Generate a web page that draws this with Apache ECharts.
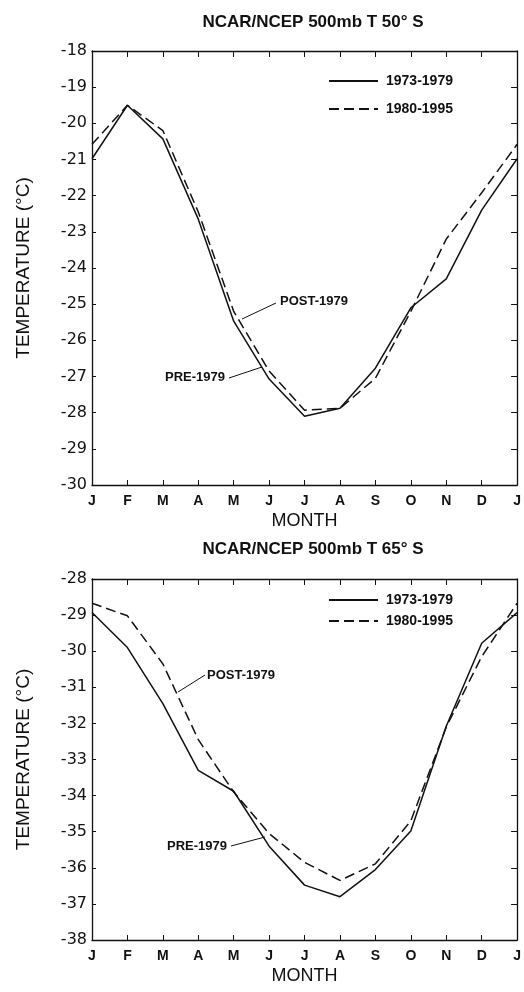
<!DOCTYPE html>
<html>
<head>
<meta charset="utf-8">
<script src="https://cdn.jsdelivr.net/npm/echarts@6/dist/echarts.min.js"></script>
<style>
  html, body { margin: 0; padding: 0; background: #fff; }
  #chart { width: 524px; height: 992px; }
</style>
</head>
<body>
<div id="chart"></div>
<script>
// month ticks, J..D and back to J
const months = ['J', 'F', 'M', 'A', 'M', 'J', 'J', 'A', 'S', 'O', 'N', 'D', 'J'];

// 50 S, 500mb temperature (deg C)
const t50Pre = [-20.98, -19.5, -20.43, -22.65, -25.47, -27.07, -28.1, -27.88, -26.77, -25.1, -24.3, -22.4, -20.98];
const t50Post = [-20.58, -19.5, -20.2, -22.45, -25.2, -26.85, -27.93, -27.88, -27.05, -25.2, -23.2, -21.92, -20.58];

// 65 S
const t65Pre = [-28.93, -29.9, -31.45, -33.3, -33.88, -35.4, -36.48, -36.8, -36.05, -34.98, -32.08, -29.78, -28.93];
const t65Post = [-28.67, -29.02, -30.35, -32.45, -33.9, -35.05, -35.85, -36.35, -35.89, -34.7, -32.1, -30.15, -28.67];

const INK = '#111';
const SANS = 'Liberation Sans, Arial, sans-serif';

const pairs = vals => vals.map((v, i) => [i, v]);

function xAxes(grid) {
    return [
        {
            type: 'value', gridIndex: grid, min: 0, max: 12, interval: 1, position: 'bottom',
            name: 'MONTH', nameLocation: 'middle', nameGap: 27,
            nameTextStyle: { color: INK, fontFamily: SANS, fontSize: 18 },
            axisLine: { onZero: false, lineStyle: { color: INK, width: 1.3 } },
            axisTick: { inside: true, length: 5, lineStyle: { color: INK } },
            axisLabel: { color: INK, fontFamily: SANS, fontSize: 14, fontWeight: 'bold', margin: 9, formatter: v => months[v] },
            splitLine: { show: false },
        },
        {
            type: 'value', gridIndex: grid, min: 0, max: 12, interval: 1, position: 'top',
            axisLine: { onZero: false, lineStyle: { color: INK, width: 1.3 } },
            axisTick: { inside: true, length: 6, lineStyle: { color: INK } },
            axisLabel: { show: false },
            splitLine: { show: false },
        },
    ];
}

function yAxes(grid, min, max) {
    return [
        {
            type: 'value', gridIndex: grid, min, max, interval: 1, position: 'left',
            name: 'TEMPERATURE (°C)', nameLocation: 'middle', nameGap: 59,
            nameTextStyle: { color: INK, fontFamily: SANS, fontSize: 19 },
            axisLine: { show: true, onZero: false, lineStyle: { color: INK, width: 1.3 } },
            axisTick: { show: true, inside: true, length: 4, lineStyle: { color: INK } },
            axisLabel: { color: INK, fontFamily: 'DejaVu Sans, sans-serif', fontSize: 16, margin: 5 },
            splitLine: { show: false },
        },
        {
            type: 'value', gridIndex: grid, min, max, interval: 1, position: 'right',
            axisLine: { show: true, onZero: false, lineStyle: { color: INK, width: 1.3 } },
            axisTick: { show: true, inside: true, length: 6, lineStyle: { color: INK } },
            axisLabel: { show: false },
            splitLine: { show: false },
        },
    ];
}

function lineSeries(name, vals, xi, yi, dashed) {
    return {
        name, type: 'line', data: pairs(vals), xAxisIndex: xi, yAxisIndex: yi,
        symbol: 'none', silent: true, color: INK,
        lineStyle: { color: INK, width: 1.5, type: dashed ? [10, 5] : 'solid' },
    };
}

function note(text, x, y) {
    return { type: 'text', left: x, top: y, style: { text, fill: INK, font: 'bold 13px ' + SANS } };
}
function leader(x1, y1, x2, y2) {
    return { type: 'line', shape: { x1, y1, x2, y2 }, style: { stroke: INK, lineWidth: 1 } };
}

const legendBase = {
    orient: 'vertical', itemWidth: 49, itemHeight: 12,
    itemStyle: { opacity: 0 },
    textStyle: { color: INK, fontFamily: SANS, fontSize: 14, fontWeight: 'bold', padding: [0, 0, 0, 3] },
    data: ['1973-1979', '1980-1995'], selectedMode: false,
};

const chart = echarts.init(document.getElementById('chart'), null, { renderer: 'canvas' });
chart.setOption({
    animation: false,
    backgroundColor: '#fff',
    title: [
        { text: 'NCAR/NCEP 500mb T 50° S', left: 308, top: 9, textAlign: 'center',
          textStyle: { color: INK, fontFamily: SANS, fontSize: 17, fontWeight: 'bold' } },
        { text: 'NCAR/NCEP 500mb T 65° S', left: 308, top: 536, textAlign: 'center',
          textStyle: { color: INK, fontFamily: SANS, fontSize: 17, fontWeight: 'bold' } },
    ],
    legend: [
        { ...legendBase, left: 323, top: 69, itemGap: 14 },
        { ...legendBase, left: 323, top: 588, itemGap: 7 },
    ],
    grid: [
        { left: 92, top: 51, width: 428, height: 434 },
        { left: 92, top: 579, width: 428, height: 361 },
    ],
    xAxis: [...xAxes(0), ...xAxes(1)],
    yAxis: [...yAxes(0, -30, -18), ...yAxes(1, -38, -28)],
    series: [
        lineSeries('1973-1979', t50Pre, 0, 0, false),
        lineSeries('1980-1995', t50Post, 0, 0, true),
        lineSeries('1973-1979', t65Pre, 2, 2, false),
        lineSeries('1980-1995', t65Post, 2, 2, true),
    ],
    graphic: [
        note('POST-1979', 280, 295), leader(242, 319, 276, 303),
        note('PRE-1979', 165, 371), leader(229, 378, 262, 367),
        note('POST-1979', 207, 669), leader(178, 692, 205, 675),
        note('PRE-1979', 167, 840), leader(231, 846, 265, 837),
    ],
});
</script>
</body>
</html>
